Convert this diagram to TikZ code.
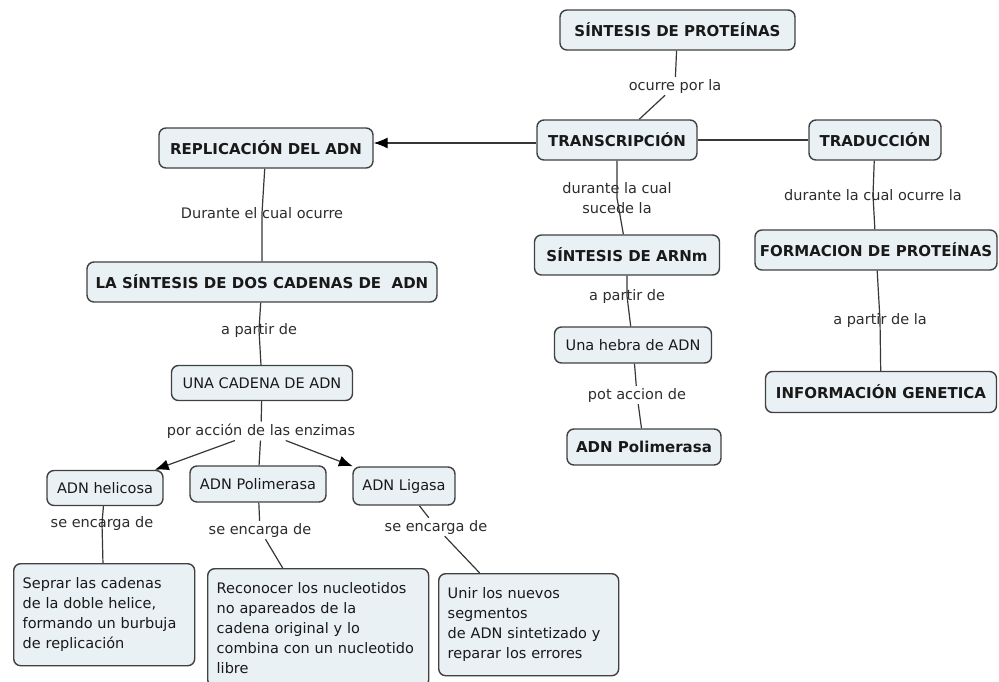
\documentclass[tikz,border=0pt]{standalone}
\usepackage{fontspec}
\setmainfont{DejaVu Sans}
\usetikzlibrary{arrows.meta}
\definecolor{boxfill}{RGB}{233,241,245}
\definecolor{boxline}{RGB}{65,65,65}
\definecolor{txt}{RGB}{25,25,25}
\definecolor{labtxt}{RGB}{45,45,45}
\definecolor{lnk}{RGB}{55,55,55}
\pgfdeclarelayer{bg}
\pgfsetlayers{bg,main}
\begin{document}
\begin{tikzpicture}[x=1pt,y=-1pt,
  box/.style={draw=boxline, line width=1.4pt, fill=boxfill, rounded corners=7pt, text=txt, inner sep=0pt, align=center},
  bbox/.style={box, font=\fontsize{15}{18}\selectfont\bfseries},
  rbox/.style={box, font=\fontsize{14.5}{20}\selectfont},
  tbox/.style={box, font=\fontsize{14.5}{20}\selectfont, align=left, inner xsep=9pt, anchor=north west},
  lab/.style={font=\fontsize{14.5}{20}\selectfont, text=labtxt, inner sep=2pt, align=center},
  conn/.style={draw=lnk, line width=1.2pt},
  arr/.style={conn, -{Latex[length=14pt,width=11pt,color=black]}},
]
\begin{pgfonlayer}{bg}
\fill[white] (0,0) rectangle (999,681);
\end{pgfonlayer}
\useasboundingbox (0,0) rectangle (999,681);

% concept nodes
\node[bbox, minimum width=235, minimum height=40] (sp) at (677.5,30) {SÍNTESIS DE PROTEÍNAS};
\node[bbox, minimum width=160, minimum height=40] (tr) at (617,140) {TRANSCRIPCIÓN};
\node[bbox, minimum width=132, minimum height=40] (td) at (875,140) {TRADUCCIÓN};
\node[bbox, minimum width=214, minimum height=40] (rep) at (266,148) {REPLICACIÓN DEL ADN};
\node[bbox, minimum width=185, minimum height=40] (arn) at (627,255) {SÍNTESIS DE ARNm};
\node[bbox, minimum width=242, minimum height=40] (fp) at (876,250) {FORMACION DE PROTEÍNAS};
\node[bbox, minimum width=350, minimum height=40] (sdc) at (262,282) {LA SÍNTESIS DE DOS CADENAS DE\ \ ADN};
\node[rbox, minimum width=157, minimum height=36] (heb) at (633,345) {Una hebra de ADN};
\node[bbox, minimum width=154, minimum height=36] (pol2) at (644,447) {ADN Polimerasa};
\node[bbox, minimum width=231, minimum height=41] (inf) at (881,392) {INFORMACIÓN GENETICA};
\node[rbox, minimum width=181, minimum height=35] (cad) at (262,383) {UNA CADENA DE ADN};
\node[rbox, minimum width=116, minimum height=35] (hel) at (105,488) {ADN helicosa};
\node[rbox, minimum width=136, minimum height=36] (pol) at (258,484) {ADN Polimerasa};
\node[rbox, minimum width=102, minimum height=38] (lig) at (404,486) {ADN Ligasa};
\node[tbox, text width=163, minimum height=102] (b1) at (13,563)
  {Seprar las cadenas\\de la doble helice,\\formando un burbuja\\de replicación};
\node[tbox, text width=203, minimum height=118] (b2) at (207,568)
  {Reconocer los nucleotidos\\no apareados de la\\cadena original y lo\\combina con un nucleotido\\libre};
\node[tbox, text width=162, minimum height=102] (b3) at (438,573)
  {Unir los nuevos\\segmentos\\de ADN sintetizado y\\reparar los errores};

% linking phrases
\node[lab] (ocl) at (675,86) {ocurre por la};
\node[lab] (l2) at (617,198) {durante la cual\\sucede la};
\node[lab] (l3) at (873,195) {durante la cual ocurre la};
\node[lab] (l4) at (262,213) {Durante el cual ocurre};
\node[lab] (l5) at (259,330) {a partir de};
\node[lab] (l6) at (627,296) {a partir de};
\node[lab] (l7) at (637,395) {pot accion de};
\node[lab] (l8) at (880,320) {a partir de la};
\node[lab] (enz) at (261,431) {por acción de las enzimas};
\node[lab] (se1) at (102,523) {se encarga de};
\node[lab] (se2) at (260,530) {se encarga de};
\node[lab] (se3) at (436,527) {se encarga de};

\begin{pgfonlayer}{bg}
\draw[conn] (sp) -- (ocl);
\draw[conn] (ocl) -- (tr);
\draw[conn] (tr) -- (td);
\draw[arr] ([yshift=-3pt]tr.west) -- ([yshift=5pt]rep.east);
\draw[conn] (tr) -- (l2.center) -- (arn);
\draw[conn] (td) -- (l3.center) -- (fp);
\draw[conn] (arn) -- (l6.center) -- (heb);
\draw[conn] (heb) -- (l7);
\draw[conn] (l7) -- (pol2);
\draw[conn] (fp) -- (l8.center) -- (inf);
\draw[conn] (rep) -- (l4.center) -- (sdc);
\draw[conn] (sdc) -- (l5.center) -- (cad);
\draw[conn] (cad) -- (enz);
\draw[conn] (enz) -- (pol);
\draw[arr] (enz) -- (hel);
\draw[arr] (enz) -- (lig);
\draw[conn] (hel) -- (se1.center) -- (b1);
\draw[conn] (pol) -- (se2);
\draw[conn] (se2) -- (b2);
\draw[conn] (lig) -- (se3);
\draw[conn] (se3) -- (b3);
\end{pgfonlayer}
\end{tikzpicture}
\end{document}
